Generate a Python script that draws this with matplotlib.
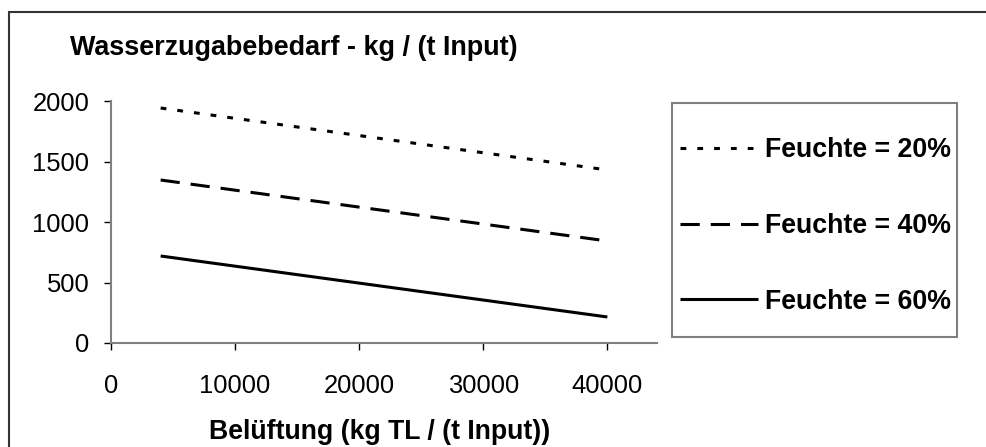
import matplotlib
matplotlib.use("Agg")
import matplotlib.pyplot as plt
from matplotlib.patches import Rectangle

# data
belueftung = [4000, 40000]
feuchte_20 = [1942, 1430]
feuchte_40 = [1347, 843]
feuchte_60 = [719, 215]
series_labels = ["Feuchte = 20%", "Feuchte = 40%", "Feuchte = 60%"]
x_ticks = [0, 10000, 20000, 30000, 40000]
y_ticks = [0, 500, 1000, 1500, 2000]

plt.rcParams["font.family"] = ["Liberation Sans", "DejaVu Sans"]

W, H = 987, 447
fig = plt.figure(figsize=(W / 100, H / 100), dpi=100)

# outer chart frame (open at right and bottom as in the screenshot)
fig.patches.append(Rectangle((9 / W, -0.05), 1.2, 1 - 12 / H + 0.05,
                             transform=fig.transFigure, fill=False,
                             edgecolor="#333333", linewidth=1.5))

ax = fig.add_axes([111 / W, 1 - 343 / H, (657 - 111) / W, (343 - 101) / H])

lw = 2.2
ax.plot(belueftung, feuchte_20, color="black", linewidth=lw,
        dashes=(1.9, 3.6), dash_capstyle="butt", label=series_labels[0])
ax.plot(belueftung, feuchte_40, color="black", linewidth=lw,
        dashes=(6.3, 3.6), dash_capstyle="butt", label=series_labels[1])
ax.plot(belueftung, feuchte_60, color="black", linewidth=lw,
        solid_capstyle="butt", label=series_labels[2])

ax.set_xlim(0, 44000)
ax.set_ylim(0, 2000)
ax.set_xticks(x_ticks)
ax.set_yticks(y_ticks)
ax.set_xticklabels([str(v) for v in x_ticks])
ax.set_yticklabels([str(v) for v in y_ticks])
ax.tick_params(axis="both", direction="out", length=5, width=1,
               colors="black", labelsize=18.4)
ax.tick_params(axis="y", pad=10.5)
ax.tick_params(axis="x", pad=17)

for side in ("top", "right"):
    ax.spines[side].set_visible(False)
for side in ("left", "bottom"):
    ax.spines[side].set_color("#808080")
    ax.spines[side].set_linewidth(1.5)

ax.set_xlabel("Belüftung (kg TL / (t Input))", fontsize=19.2,
              fontweight="bold", va="center")
ax.xaxis.set_label_coords((380 - 111) / 546, (343 - 432) / 242)

fig.text(70 / W, 1 - 48 / H, "Wasserzugabebedarf - kg / (t Input)",
         fontsize=19.4, fontweight="bold", ha="left", va="center")

# legend box drawn separately so its padding can match the reference
fig.patches.append(Rectangle((672 / W, 1 - 337 / H), (957 - 672) / W,
                             (337 - 103) / H, transform=fig.transFigure,
                             fill=False, edgecolor="#808080", linewidth=1.5))
fig.legend(loc="center left", bbox_to_anchor=(680 / W, 1 - 226 / H),
           frameon=False, prop={"weight": "bold", "size": 19.3},
           handlelength=2.9, handletextpad=0.28, labelspacing=1.85,
           borderpad=0, borderaxespad=0)

fig.savefig("out.png", dpi=100)
